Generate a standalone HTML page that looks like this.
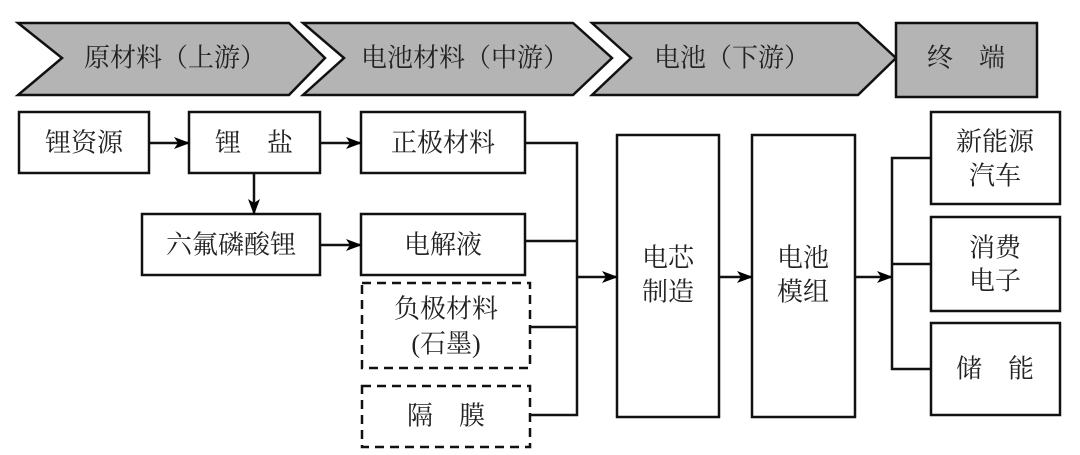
<!DOCTYPE html>
<html><head><meta charset="utf-8"><style>
html,body{margin:0;padding:0;background:#fff;}
svg{display:block;}
text{font-family:"Liberation Serif","Noto Serif CJK SC","Noto Sans CJK SC",serif;font-size:26px;fill:#222;text-anchor:middle;dominant-baseline:central;}
</style></head><body>
<svg width="1080" height="455" viewBox="0 0 1080 455" xmlns="http://www.w3.org/2000/svg">
<defs>
<marker id="a" markerWidth="16" markerHeight="12" refX="15" refY="6" orient="auto" markerUnits="userSpaceOnUse">
<path d="M0,0 L16,6 L0,12 L4,6 Z" fill="#000"/>
</marker>
</defs>
<g stroke="#111" stroke-width="2.5" fill="#b4b4b4" stroke-linejoin="miter">
<polygon points="18,23 289,23 325,58 289,95 18,95 62,58"/>
<polygon points="303,23 573,23 612,58 573,95 303,95 344,58"/>
<polygon points="592,23 858,23 896,58 858,95 592,95 631,58"/>
<rect x="896" y="23" width="141" height="74"/>
</g>
<text x="175" y="58">原材料（上游）</text>
<text x="465" y="58">电池材料（中游）</text>
<text x="732" y="58">电池（下游）</text>
<text x="966" y="58">终　端</text>

<g stroke="#111" stroke-width="2.5" fill="#fff">
<rect x="19" y="112" width="130" height="61"/>
<rect x="189" y="112" width="131" height="61"/>
<rect x="361" y="112" width="164" height="61"/>
<rect x="142" y="214" width="178" height="61"/>
<rect x="361" y="214" width="164" height="61"/>
<rect x="617" y="135" width="102" height="282"/>
<rect x="752" y="135" width="103" height="282"/>
<rect x="931" y="112" width="129" height="92"/>
<rect x="931" y="217" width="129" height="94"/>
<rect x="931" y="323" width="129" height="92"/>
</g>
<g stroke="#111" stroke-width="2.5" fill="#fff" stroke-dasharray="9,6">
<rect x="362" y="283" width="168" height="85"/>
<rect x="362" y="386" width="168" height="61"/>
</g>

<g stroke="#111" stroke-width="2.5" fill="none">
<line x1="149" y1="143" x2="189" y2="143" marker-end="url(#a)"/>
<line x1="320" y1="143" x2="361" y2="143" marker-end="url(#a)"/>
<line x1="254" y1="173" x2="254" y2="214" marker-end="url(#a)"/>
<line x1="320" y1="245" x2="361" y2="245" marker-end="url(#a)"/>
<polyline points="525,143 577,143 577,415 530,415"/>
<line x1="525" y1="241" x2="577" y2="241"/>
<line x1="530" y1="327" x2="577" y2="327"/>
<line x1="577" y1="277" x2="617" y2="277" marker-end="url(#a)"/>
<line x1="719" y1="277" x2="752" y2="277" marker-end="url(#a)"/>
<line x1="855" y1="277" x2="892" y2="277" marker-end="url(#a)"/>
<polyline points="931,158 892,158 892,369 931,369"/>
<line x1="892" y1="264" x2="931" y2="264"/>
</g>

<text x="84" y="143">锂资源</text>
<text x="254" y="143">锂　盐</text>
<text x="443" y="143">正极材料</text>
<text x="231" y="245">六氟磷酸锂</text>
<text x="443" y="245">电解液</text>
<text x="446" y="309">负极材料</text>
<text x="446" y="344">(石墨)</text>
<text x="446" y="416">隔　膜</text>
<text x="668" y="258">电芯</text>
<text x="668" y="292">制造</text>
<text x="803" y="258">电池</text>
<text x="803" y="292">模组</text>
<text x="995" y="142">新能源</text>
<text x="995" y="176">汽车</text>
<text x="995" y="248">消费</text>
<text x="995" y="281">电子</text>
<text x="995" y="369">储　能</text>
</svg>
</body></html>
